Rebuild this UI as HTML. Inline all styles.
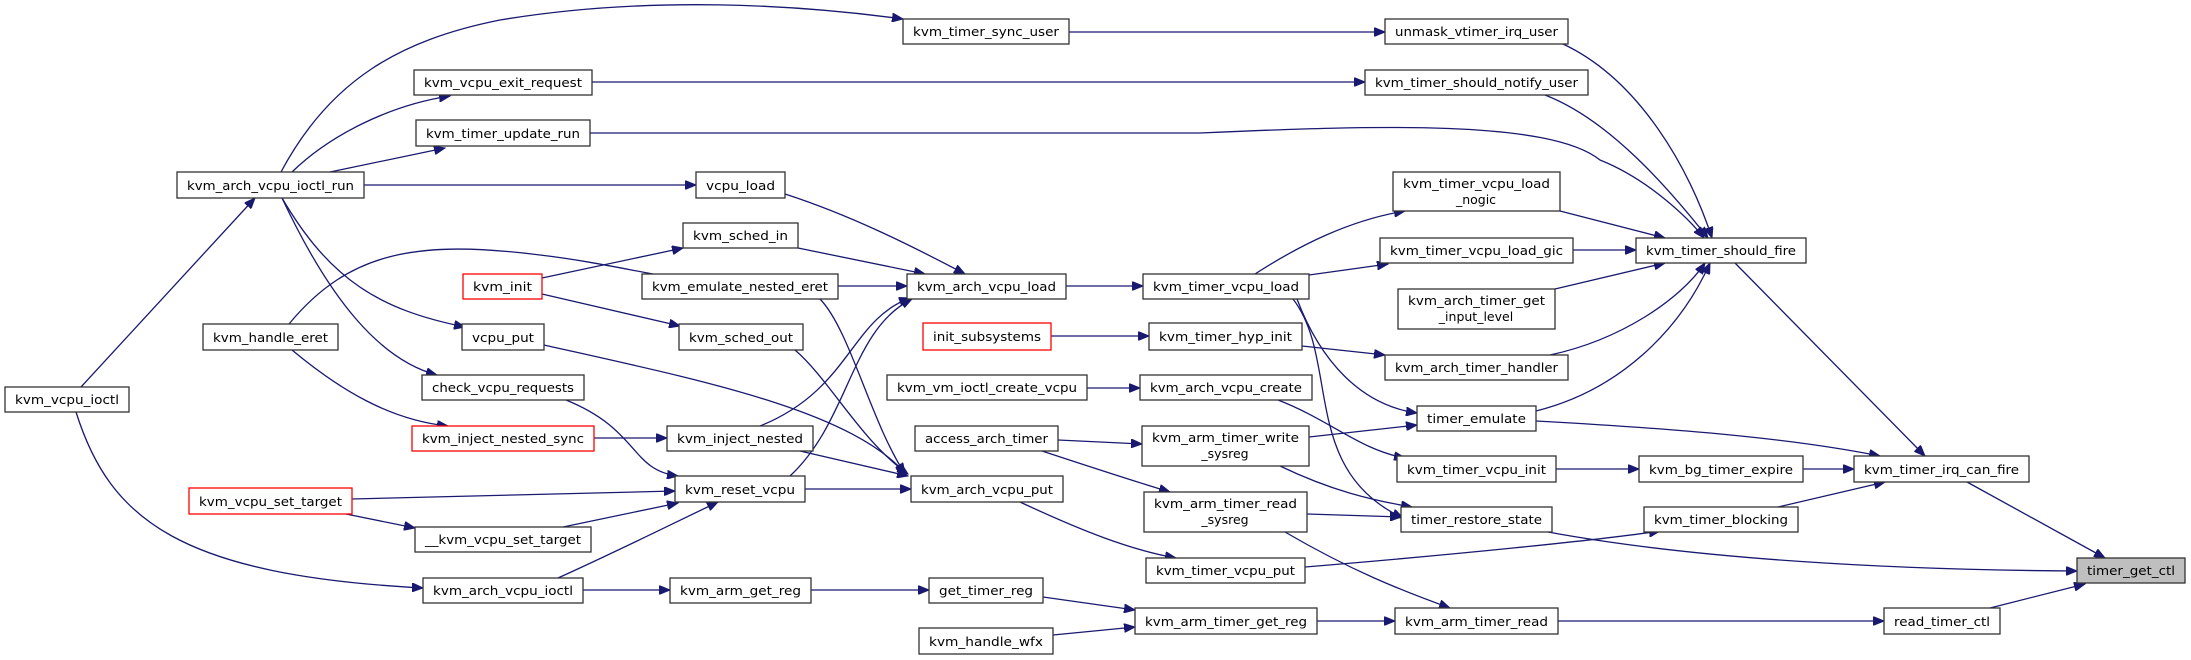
<!DOCTYPE html>
<html><head><meta charset="utf-8"><style>
html,body{margin:0;padding:0;background:#fff;}
svg{display:block;}
text{font-family:"DejaVu Sans","Liberation Sans",sans-serif;font-size:12.5px;fill:#000;}
.n{fill:#fff;stroke:#333;stroke-width:1.3;}
.r{fill:#fff;stroke:#f00;stroke-width:1.3;}
.g{fill:#bfbfbf;stroke:#333;stroke-width:1.3;}
.e{fill:none;stroke:#191970;stroke-width:1.3;}
</style></head><body>
<svg width="2191" height="660" viewBox="0 0 2191 660" xmlns="http://www.w3.org/2000/svg">
<defs><marker id="a" markerUnits="userSpaceOnUse" markerWidth="12" markerHeight="9" refX="11" refY="4.5" orient="auto"><path d="M0,0 L11,4.5 L0,9 z" fill="#191970" stroke="#191970"/></marker></defs>
<g marker-end="url(#a)" class="e">
<path class="e" d="M281,172 C330,80 400,40 500,20 C650,-5 800,5 903,19"/>
<path class="e" d="M292,172 C330,135 390,105 450,96"/>
<path class="e" d="M330,172 L445,148"/>
<path class="e" d="M364,185 L696,185"/>
<path class="e" d="M282,198 C330,280 380,310 465,327"/>
<path class="e" d="M282,198 C330,300 380,360 437,375"/>
<path class="e" d="M81,387 L255,198"/>
<path class="e" d="M76,412 C110,520 180,575 423,588"/>
<path class="e" d="M289,324 C350,250 420,240 540,255 C600,262 650,275 690,280"/>
<path class="e" d="M292,350 C340,390 390,420 448,426"/>
<path class="e" d="M542,278 L683,248"/>
<path class="e" d="M542,294 L680,326"/>
<path class="e" d="M785,194 C850,215 910,245 965,274"/>
<path class="e" d="M798,248 L925,274"/>
<path class="e" d="M838,286 L907,286"/>
<path class="e" d="M820,299 C850,330 870,420 905,474"/>
<path class="e" d="M795,350 C830,380 860,440 908,474"/>
<path class="e" d="M544,345 C700,380 850,410 906,474"/>
<path class="e" d="M566,400 C640,430 630,470 678,476"/>
<path class="e" d="M594,438 L667,438"/>
<path class="e" d="M760,426 C850,390 850,320 910,298"/>
<path class="e" d="M800,451 L908,476"/>
<path class="e" d="M790,476 C850,420 850,330 912,299"/>
<path class="e" d="M805,489 L911,489"/>
<path class="e" d="M352,499 L675,491"/>
<path class="e" d="M346,514 L415,528"/>
<path class="e" d="M563,527 L678,503"/>
<path class="e" d="M558,578 C620,550 680,520 718,502"/>
<path class="e" d="M583,590 L670,590"/>
<path class="e" d="M811,590 L929,590"/>
<path class="e" d="M1043,597 L1135,610"/>
<path class="e" d="M1053,635 L1135,627"/>
<path class="e" d="M1317,621 L1395,621"/>
<path class="e" d="M1558,621 L1884,621"/>
<path class="e" d="M1990,608 L2085,584"/>
<path class="e" d="M1066,286 L1143,286"/>
<path class="e" d="M1020,502 C1080,530 1130,550 1176,558"/>
<path class="e" d="M1305,567 C1450,555 1600,540 1660,531"/>
<path class="e" d="M1255,274 C1300,245 1350,220 1405,211"/>
<path class="e" d="M1309,275 L1388,264"/>
<path class="e" d="M1297,299 C1320,360 1360,405 1417,413"/>
<path class="e" d="M1293,299 C1340,360 1300,470 1403,518"/>
<path class="e" d="M1051,336 L1149,336"/>
<path class="e" d="M1302,346 L1385,355"/>
<path class="e" d="M1087,388 L1140,388"/>
<path class="e" d="M1278,400 C1330,420 1360,450 1405,458"/>
<path class="e" d="M1058,440 L1142,444"/>
<path class="e" d="M1042,451 C1100,470 1130,480 1170,492"/>
<path class="e" d="M1309,437 L1417,425"/>
<path class="e" d="M1280,466 C1330,490 1370,500 1412,507"/>
<path class="e" d="M1307,514 L1401,517"/>
<path class="e" d="M1285,532 C1350,570 1400,590 1450,608"/>
<path class="e" d="M1563,44 C1640,80 1690,170 1712,238"/>
<path class="e" d="M1545,95 C1610,120 1670,190 1708,238"/>
<path class="e" d="M590,133 L1200,133 C1380,125 1550,120 1600,160 C1650,180 1690,220 1704,238"/>
<path class="e" d="M1560,211 L1665,238"/>
<path class="e" d="M1573,250 L1636,250"/>
<path class="e" d="M1555,289 L1665,263"/>
<path class="e" d="M1550,355 C1620,340 1680,300 1705,263"/>
<path class="e" d="M1536,411 C1620,390 1680,330 1710,263"/>
<path class="e" d="M1735,263 L1925,456"/>
<path class="e" d="M1536,421 C1700,430 1800,440 1880,456"/>
<path class="e" d="M1556,469 L1639,469"/>
<path class="e" d="M1803,469 L1854,469"/>
<path class="e" d="M1778,507 L1885,482"/>
<path class="e" d="M1967,482 L2105,558"/>
<path class="e" d="M1548,532 C1700,560 1900,570 2077,571"/>
<path class="e" d="M592,82 L1365,82"/>
<path class="e" d="M1069,32 L1385,32"/>
</g>
<g>
<rect class="n" x="177" y="172" width="187" height="26"/><text x="187" y="190" textLength="167" lengthAdjust="spacingAndGlyphs">kvm_arch_vcpu_ioctl_run</text>
<rect class="n" x="414" y="70" width="178" height="25"/><text x="424" y="87" textLength="158" lengthAdjust="spacingAndGlyphs">kvm_vcpu_exit_request</text>
<rect class="n" x="416" y="120" width="174" height="26"/><text x="426" y="138" textLength="154" lengthAdjust="spacingAndGlyphs">kvm_timer_update_run</text>
<rect class="n" x="696" y="172" width="89" height="26"/><text x="706" y="190" textLength="69" lengthAdjust="spacingAndGlyphs">vcpu_load</text>
<rect class="n" x="683" y="223" width="115" height="25"/><text x="693" y="240" textLength="95" lengthAdjust="spacingAndGlyphs">kvm_sched_in</text>
<rect class="r" x="463" y="274" width="79" height="25"/><text x="473" y="291" textLength="59" lengthAdjust="spacingAndGlyphs">kvm_init</text>
<rect class="n" x="642" y="274" width="196" height="25"/><text x="652" y="291" textLength="176" lengthAdjust="spacingAndGlyphs">kvm_emulate_nested_eret</text>
<rect class="n" x="203" y="324" width="135" height="26"/><text x="213" y="342" textLength="115" lengthAdjust="spacingAndGlyphs">kvm_handle_eret</text>
<rect class="n" x="462" y="324" width="82" height="26"/><text x="472" y="342" textLength="62" lengthAdjust="spacingAndGlyphs">vcpu_put</text>
<rect class="n" x="679" y="324" width="124" height="26"/><text x="689" y="342" textLength="104" lengthAdjust="spacingAndGlyphs">kvm_sched_out</text>
<rect class="n" x="5" y="387" width="124" height="25"/><text x="15" y="404" textLength="104" lengthAdjust="spacingAndGlyphs">kvm_vcpu_ioctl</text>
<rect class="n" x="422" y="375" width="162" height="25"/><text x="432" y="392" textLength="142" lengthAdjust="spacingAndGlyphs">check_vcpu_requests</text>
<rect class="r" x="412" y="426" width="182" height="25"/><text x="422" y="443" textLength="162" lengthAdjust="spacingAndGlyphs">kvm_inject_nested_sync</text>
<rect class="n" x="667" y="426" width="146" height="25"/><text x="677" y="443" textLength="126" lengthAdjust="spacingAndGlyphs">kvm_inject_nested</text>
<rect class="n" x="675" y="476" width="130" height="26"/><text x="685" y="494" textLength="110" lengthAdjust="spacingAndGlyphs">kvm_reset_vcpu</text>
<rect class="r" x="189" y="488" width="163" height="26"/><text x="199" y="506" textLength="143" lengthAdjust="spacingAndGlyphs">kvm_vcpu_set_target</text>
<rect class="n" x="415" y="527" width="176" height="25"/><text x="425" y="544" textLength="156" lengthAdjust="spacingAndGlyphs">__kvm_vcpu_set_target</text>
<rect class="n" x="423" y="578" width="160" height="25"/><text x="433" y="595" textLength="140" lengthAdjust="spacingAndGlyphs">kvm_arch_vcpu_ioctl</text>
<rect class="n" x="670" y="578" width="141" height="25"/><text x="680" y="595" textLength="121" lengthAdjust="spacingAndGlyphs">kvm_arm_get_reg</text>
<rect class="n" x="903" y="19" width="166" height="25"/><text x="913" y="36" textLength="146" lengthAdjust="spacingAndGlyphs">kvm_timer_sync_user</text>
<rect class="n" x="1385" y="19" width="183" height="25"/><text x="1395" y="36" textLength="163" lengthAdjust="spacingAndGlyphs">unmask_vtimer_irq_user</text>
<rect class="n" x="1365" y="70" width="223" height="25"/><text x="1375" y="87" textLength="203" lengthAdjust="spacingAndGlyphs">kvm_timer_should_notify_user</text>
<rect class="n" x="1393" y="172" width="167" height="39"/><text x="1403" y="188" textLength="147" lengthAdjust="spacingAndGlyphs">kvm_timer_vcpu_load</text><text x="1476" y="204" text-anchor="middle">_nogic</text>
<rect class="n" x="1380" y="238" width="193" height="25"/><text x="1390" y="255" textLength="173" lengthAdjust="spacingAndGlyphs">kvm_timer_vcpu_load_gic</text>
<rect class="n" x="1398" y="289" width="157" height="40"/><text x="1408" y="305" textLength="137" lengthAdjust="spacingAndGlyphs">kvm_arch_timer_get</text><text x="1476" y="321" text-anchor="middle">_input_level</text>
<rect class="n" x="907" y="274" width="159" height="25"/><text x="917" y="291" textLength="139" lengthAdjust="spacingAndGlyphs">kvm_arch_vcpu_load</text>
<rect class="n" x="1143" y="274" width="166" height="25"/><text x="1153" y="291" textLength="146" lengthAdjust="spacingAndGlyphs">kvm_timer_vcpu_load</text>
<rect class="r" x="923" y="323" width="128" height="27"/><text x="933" y="341" textLength="108" lengthAdjust="spacingAndGlyphs">init_subsystems</text>
<rect class="n" x="1149" y="323" width="153" height="27"/><text x="1159" y="341" textLength="133" lengthAdjust="spacingAndGlyphs">kvm_timer_hyp_init</text>
<rect class="n" x="1385" y="355" width="183" height="25"/><text x="1395" y="372" textLength="163" lengthAdjust="spacingAndGlyphs">kvm_arch_timer_handler</text>
<rect class="n" x="887" y="375" width="200" height="25"/><text x="897" y="392" textLength="180" lengthAdjust="spacingAndGlyphs">kvm_vm_ioctl_create_vcpu</text>
<rect class="n" x="1140" y="375" width="172" height="25"/><text x="1150" y="392" textLength="152" lengthAdjust="spacingAndGlyphs">kvm_arch_vcpu_create</text>
<rect class="n" x="1417" y="406" width="119" height="25"/><text x="1427" y="423" textLength="99" lengthAdjust="spacingAndGlyphs">timer_emulate</text>
<rect class="n" x="915" y="426" width="143" height="25"/><text x="925" y="443" textLength="123" lengthAdjust="spacingAndGlyphs">access_arch_timer</text>
<rect class="n" x="1142" y="426" width="167" height="40"/><text x="1152" y="442" textLength="147" lengthAdjust="spacingAndGlyphs">kvm_arm_timer_write</text><text x="1225" y="458" text-anchor="middle">_sysreg</text>
<rect class="n" x="1397" y="456" width="159" height="26"/><text x="1407" y="474" textLength="139" lengthAdjust="spacingAndGlyphs">kvm_timer_vcpu_init</text>
<rect class="n" x="911" y="476" width="152" height="26"/><text x="921" y="494" textLength="132" lengthAdjust="spacingAndGlyphs">kvm_arch_vcpu_put</text>
<rect class="n" x="1144" y="492" width="163" height="40"/><text x="1154" y="508" textLength="143" lengthAdjust="spacingAndGlyphs">kvm_arm_timer_read</text><text x="1225" y="524" text-anchor="middle">_sysreg</text>
<rect class="n" x="1401" y="507" width="151" height="25"/><text x="1411" y="524" textLength="131" lengthAdjust="spacingAndGlyphs">timer_restore_state</text>
<rect class="n" x="1146" y="558" width="159" height="25"/><text x="1156" y="575" textLength="139" lengthAdjust="spacingAndGlyphs">kvm_timer_vcpu_put</text>
<rect class="n" x="929" y="578" width="114" height="25"/><text x="939" y="595" textLength="94" lengthAdjust="spacingAndGlyphs">get_timer_reg</text>
<rect class="n" x="1135" y="608" width="182" height="26"/><text x="1145" y="626" textLength="162" lengthAdjust="spacingAndGlyphs">kvm_arm_timer_get_reg</text>
<rect class="n" x="1395" y="608" width="163" height="26"/><text x="1405" y="626" textLength="143" lengthAdjust="spacingAndGlyphs">kvm_arm_timer_read</text>
<rect class="n" x="919" y="628" width="134" height="26"/><text x="929" y="646" textLength="114" lengthAdjust="spacingAndGlyphs">kvm_handle_wfx</text>
<rect class="n" x="1636" y="238" width="170" height="25"/><text x="1646" y="255" textLength="150" lengthAdjust="spacingAndGlyphs">kvm_timer_should_fire</text>
<rect class="n" x="1639" y="456" width="164" height="26"/><text x="1649" y="474" textLength="144" lengthAdjust="spacingAndGlyphs">kvm_bg_timer_expire</text>
<rect class="n" x="1854" y="456" width="175" height="26"/><text x="1864" y="474" textLength="155" lengthAdjust="spacingAndGlyphs">kvm_timer_irq_can_fire</text>
<rect class="n" x="1644" y="507" width="154" height="25"/><text x="1654" y="524" textLength="134" lengthAdjust="spacingAndGlyphs">kvm_timer_blocking</text>
<rect class="g" x="2077" y="558" width="108" height="25"/><text x="2087" y="575" textLength="88" lengthAdjust="spacingAndGlyphs">timer_get_ctl</text>
<rect class="n" x="1884" y="608" width="116" height="26"/><text x="1894" y="626" textLength="96" lengthAdjust="spacingAndGlyphs">read_timer_ctl</text>
</g>
</svg>
</body></html>
